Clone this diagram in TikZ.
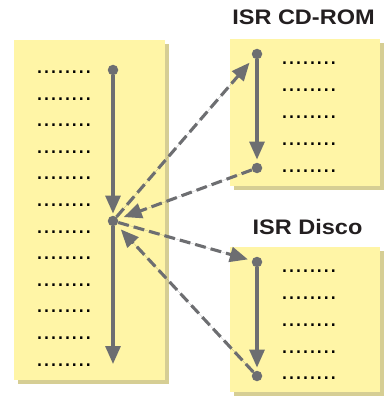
\documentclass[tikz,border=0pt]{standalone}
\usepackage{xcolor}
\usepackage{fontspec}
\usepackage{tikz}
\usetikzlibrary{arrows.meta,shadows}
\newfontfamily\titlefont[FakeStretch=1.12]{Liberation Sans}
\newfontfamily\rowfont{Liberation Sans}
\definecolor{notepad}{HTML}{FFF5A6}
\definecolor{notetan}{HTML}{D6CE94}
\definecolor{linegray}{HTML}{6D6E71}
\definecolor{titleink}{HTML}{231F20}

\begin{document}
\begin{tikzpicture}[x=1pt,y=-1pt,>={Triangle[length=18pt,width=15pt]},
    note/.style={rectangle, fill=notepad, draw=none, inner sep=0pt,
        general shadow={fill=notetan, shadow xshift=4pt, shadow yshift=-4pt}},
    dotrow/.style={inner sep=0pt, anchor=base, font=\rowfont\fontsize{25}{25}\selectfont},
    pin/.style={circle, fill=linegray, inner sep=0pt, minimum size=10.5pt},
    flow/.style={->, draw=linegray, fill=linegray, line width=3.1pt},
    jump/.style={flow, dash pattern=on 11pt off 5pt, shorten >=6pt},
    title/.style={text=titleink, font=\titlefont\bfseries\fontsize{21}{21}\selectfont}]
      \useasboundingbox (0,0) rectangle (383,396);
      % three notes
      \node[note, minimum width=151pt, minimum height=340pt] (isr) at (89.5,210) {};
      \node[note, minimum width=150pt, minimum height=147pt] (cdrom) at (305,112.5) {};
      \node[note, minimum width=150pt, minimum height=145pt] (disco) at (305,319.5) {};
      \node[title] (cdtitle) at (303.5,17.5) {ISR CD-ROM};
      \node[title] (dktitle) at (307.5,226.5) {ISR Disco};
      % rows of dots
      \foreach \i in {0,...,11}
        \node[dotrow] (isr\i) at (64,{73.4+26.6*\i}) {........};
      \foreach \i/\y in {0/63,1/90,2/117,3/144,4/171}
        \node[dotrow] (cd\i) at (309,\y+1.4) {........};
      \foreach \i/\y in {0/271,1/298,2/325,3/352,4/378}
        \node[dotrow] (dk\i) at (309,\y+1.4) {........};
      % pins and arrows
      \node[pin] (isrtop) at (113,70) {};
      \node[pin] (isrmid) at (113,221) {};
      \coordinate (isrend) at (113,364);
      \node[pin] (cdtop) at (257,54) {};
      \node[pin] (cdbot) at (257,168) {};
      \node[pin] (dktop) at (257,262) {};
      \node[pin] (dkbot) at (257,376) {};
      \draw[flow, shorten >=2pt] (isrtop) -- (isrmid);
      \draw[flow] (isrmid) -- (isrend);
      \draw[flow, shorten >=3pt] (cdtop) -- (cdbot);
      \draw[flow, shorten >=3pt] (dktop) -- (dkbot);
      \draw[jump] (isrmid) -- (cdtop);
      \draw[jump] (cdbot) -- (isrmid);
      \draw[jump, shorten >=4pt] (isrmid) -- (dktop);
      \draw[jump] (dkbot) -- (isrmid);
\end{tikzpicture}
\end{document}
